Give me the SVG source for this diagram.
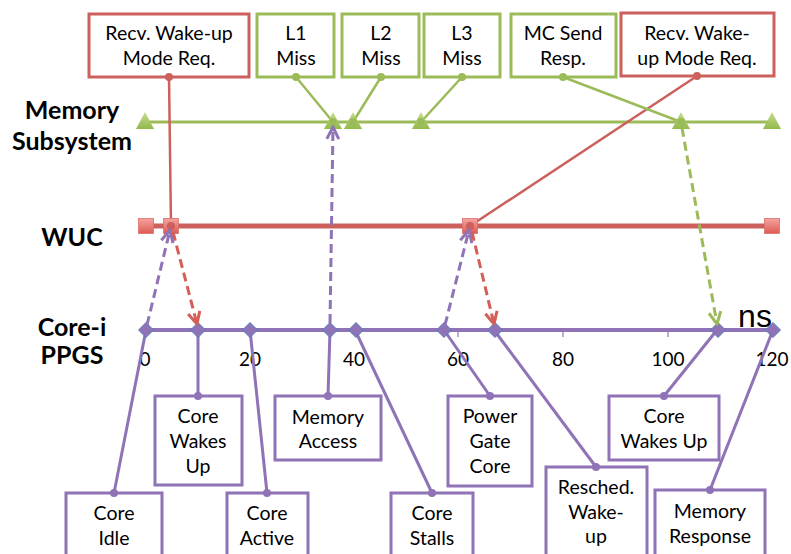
<svg xmlns="http://www.w3.org/2000/svg" width="791" height="554" viewBox="0 0 791 554">
<style>
.t{font-family:Lato,"Liberation Sans",sans-serif;font-size:19.5px;fill:#000;text-anchor:middle}
.lab{font-family:Lato,"Liberation Sans",sans-serif;font-size:25px;font-weight:bold;fill:#000;text-anchor:middle}
.ax{font-family:Lato,"Liberation Sans",sans-serif;font-size:19px;fill:#000;text-anchor:middle}
.rb{fill:#fff;stroke:#cc605c;stroke-width:3}
.gb{fill:#fff;stroke:#9bbb59;stroke-width:3}
.pb{fill:#fff;stroke:#8f73b6;stroke-width:3}
.rl{stroke:#cc605c;stroke-width:2.5;fill:none}
.gl{stroke:#9bbb59;stroke-width:2.5;fill:none}
.pl{stroke:#8f73b6;stroke-width:3;fill:none}
.rd{fill:#cc605c}
.gd{fill:#9bbb59}
.pd{fill:#8f73b6}
.dr{stroke:#d35f57;stroke-width:3;stroke-dasharray:9,5;fill:none;marker-end:url(#ar)}
.dp{stroke:#8f73b6;stroke-width:3;stroke-dasharray:9,5;fill:none;marker-end:url(#ap)}
.dg{stroke:#9bbb59;stroke-width:3;stroke-dasharray:9,5;fill:none;marker-end:url(#ag)}
</style>
<defs>
<marker id="ar" viewBox="0 0 10 10" refX="9" refY="5" markerWidth="5" markerHeight="5" orient="auto" markerUnits="strokeWidth"><path d="M1,1 L9,5 L1,9" fill="none" stroke="#d35f57" stroke-width="2"/></marker>
<marker id="ap" viewBox="0 0 10 10" refX="9" refY="5" markerWidth="5" markerHeight="5" orient="auto" markerUnits="strokeWidth"><path d="M1,1 L9,5 L1,9" fill="none" stroke="#8f73b6" stroke-width="2"/></marker>
<marker id="ag" viewBox="0 0 10 10" refX="9" refY="5" markerWidth="5" markerHeight="5" orient="auto" markerUnits="strokeWidth"><path d="M1,1 L9,5 L1,9" fill="none" stroke="#9bbb59" stroke-width="2"/></marker>
<linearGradient id="gg" x1="0" y1="0" x2="0" y2="1"><stop offset="0" stop-color="#c6dc92"/><stop offset="1" stop-color="#93b94c"/></linearGradient>
<linearGradient id="rg" x1="0" y1="0" x2="0" y2="1"><stop offset="0" stop-color="#f5a39f"/><stop offset="1" stop-color="#df5b55"/></linearGradient>
<path id="tri" d="M0,-10 L9,7 L-9,7 Z" fill="url(#gg)"/>
<rect id="sq" x="-7.5" y="-7.5" width="15" height="15" fill="url(#rg)" stroke="#d9706b" stroke-width="0.8"/>
<path id="dia" d="M0,-7.5 L7.5,0 L0,7.5 L-7.5,0 Z" fill="#8f73b6" stroke="#4f81bd" stroke-width="1"/>
</defs>
<rect width="791" height="554" fill="#fff"/>

<g id="lane-labels">
<text class="lab" x="72" y="119">Memory</text>
<text class="lab" x="72" y="150">Subsystem</text>
<text class="lab" x="72" y="246">WUC</text>
<text class="lab" x="72" y="336">Core-i</text>
<text class="lab" x="72" y="364">PPGS</text>
</g>

<g id="axis-labels">
<text class="ax" x="145" y="366">0</text>
<text class="ax" x="250" y="366">20</text>
<text class="ax" x="354" y="366">40</text>
<text class="ax" x="458" y="366">60</text>
<text class="ax" x="563" y="366">80</text>
<text class="ax" x="668" y="366">100</text>
<text class="ax" x="772" y="366">120</text>
<text x="755" y="327" style="font-family:'Liberation Sans',Arial,sans-serif;font-size:32px;text-anchor:middle">ns</text>
</g>

<g id="timelines">
<line x1="145" y1="122" x2="772" y2="122" stroke="#9bbb59" stroke-width="3"/>
<line x1="145" y1="226" x2="772" y2="226" stroke="#cc605c" stroke-width="5"/>
<line x1="146" y1="330" x2="773" y2="330" stroke="#8f73b6" stroke-width="4"/>
<g stroke="#8f73b6" stroke-width="1.2">
<line x1="458" y1="331" x2="458" y2="337"/>
<line x1="563" y1="331" x2="563" y2="337"/>
<line x1="668" y1="331" x2="668" y2="337"/>
</g>
</g>

<g id="connectors">
<line class="rl" x1="169" y1="77" x2="171" y2="226"/>
<line class="rl" x1="697" y1="76" x2="470" y2="226"/>
<line class="gl" x1="296" y1="77" x2="333" y2="122"/>
<line class="gl" x1="381" y1="77" x2="353" y2="122"/>
<line class="gl" x1="462" y1="77" x2="421" y2="122"/>
<line class="gl" x1="563" y1="77" x2="681" y2="122"/>
<line class="pl" x1="146" y1="330" x2="114" y2="493"/>
<line class="pl" x1="198" y1="330" x2="198" y2="396"/>
<line class="pl" x1="250" y1="330" x2="267" y2="493"/>
<line class="pl" x1="330" y1="330" x2="328" y2="396"/>
<line class="pl" x1="355" y1="330" x2="432" y2="493"/>
<line class="pl" x1="444" y1="330" x2="490" y2="396"/>
<line class="pl" x1="494" y1="330" x2="596" y2="467"/>
<line class="pl" x1="717" y1="330" x2="664" y2="396"/>
<line class="pl" x1="773" y1="330" x2="710" y2="490"/>
</g>

<g id="markers">
<use href="#tri" x="145" y="122"/>
<use href="#tri" x="333" y="122"/>
<use href="#tri" x="353" y="122"/>
<use href="#tri" x="421" y="122"/>
<use href="#tri" x="681" y="122"/>
<use href="#tri" x="772" y="122"/>
<use href="#sq" x="146" y="226"/>
<use href="#sq" x="171" y="226"/>
<use href="#sq" x="470" y="226"/>
<use href="#sq" x="772" y="226"/>
<use href="#dia" x="146" y="330"/>
<use href="#dia" x="198" y="330"/>
<use href="#dia" x="250" y="330"/>
<use href="#dia" x="330" y="330"/>
<use href="#dia" x="356" y="330"/>
<use href="#dia" x="444" y="330"/>
<use href="#dia" x="495" y="330"/>
<use href="#dia" x="718" y="330"/>
<use href="#dia" x="773" y="330"/>
<circle class="gd" cx="333" cy="122" r="4"/>
<circle class="gd" cx="353" cy="122" r="4"/>
<circle class="gd" cx="421" cy="122" r="4"/>
<circle class="gd" cx="681" cy="122" r="4"/>
<circle class="rd" cx="171" cy="226" r="4"/>
<circle class="rd" cx="470" cy="226" r="4"/>
</g>

<g id="dashed-arrows">
<line class="dp" x1="147" y1="325" x2="170" y2="230"/>
<line class="dr" x1="173" y1="232" x2="197" y2="324"/>
<line class="dp" x1="330" y1="323" x2="333" y2="127"/>
<line class="dp" x1="445" y1="325" x2="469" y2="230"/>
<line class="dr" x1="472" y1="232" x2="494" y2="324"/>
<line class="dg" x1="682" y1="128" x2="717" y2="324"/>
</g>

<g id="n-recv1">
<rect class="rb" x="89" y="14" width="160" height="63"/>
<text class="t" x="169" y="40">Recv. Wake-up</text>
<text class="t" x="169" y="65">Mode Req.</text>
<circle class="rd" cx="169" cy="77" r="4"/>
</g>
<g id="n-l1">
<rect class="gb" x="257" y="14" width="77" height="63"/>
<text class="t" x="296" y="40">L1</text>
<text class="t" x="296" y="65">Miss</text>
<circle class="gd" cx="296" cy="77" r="4"/>
</g>
<g id="n-l2">
<rect class="gb" x="342" y="14" width="77" height="63"/>
<text class="t" x="381" y="40">L2</text>
<text class="t" x="381" y="65">Miss</text>
<circle class="gd" cx="381" cy="77" r="4"/>
</g>
<g id="n-l3">
<rect class="gb" x="424" y="14" width="76" height="63"/>
<text class="t" x="462" y="40">L3</text>
<text class="t" x="462" y="65">Miss</text>
<circle class="gd" cx="462" cy="77" r="4"/>
</g>
<g id="n-mc">
<rect class="gb" x="511" y="14" width="105" height="63"/>
<text class="t" x="563" y="40">MC Send</text>
<text class="t" x="563" y="65">Resp.</text>
<circle class="gd" cx="563" cy="77" r="4"/>
</g>
<g id="n-recv2">
<rect class="rb" x="621" y="13" width="153" height="63"/>
<text class="t" x="697" y="40">Recv. Wake-</text>
<text class="t" x="697" y="65">up Mode Req.</text>
<circle class="rd" cx="697" cy="76" r="4"/>
</g>

<g id="n-idle">
<rect class="pb" x="66" y="493" width="96" height="70"/>
<text class="t" x="114" y="520">Core</text>
<text class="t" x="114" y="545">Idle</text>
<circle class="pd" cx="114" cy="493" r="4"/>
</g>
<g id="n-wakes1">
<rect class="pb" x="155" y="396" width="87" height="89"/>
<text class="t" x="198" y="423">Core</text>
<text class="t" x="198" y="448">Wakes</text>
<text class="t" x="198" y="473">Up</text>
<circle class="pd" cx="198" cy="396" r="4"/>
</g>
<g id="n-active">
<rect class="pb" x="227" y="493" width="81" height="70"/>
<text class="t" x="267" y="520">Core</text>
<text class="t" x="267" y="545">Active</text>
<circle class="pd" cx="267" cy="493" r="4"/>
</g>
<g id="n-memacc">
<rect class="pb" x="275" y="396" width="106" height="64"/>
<text class="t" x="328" y="424">Memory</text>
<text class="t" x="328" y="448">Access</text>
<circle class="pd" cx="328" cy="396" r="4"/>
</g>
<g id="n-stalls">
<rect class="pb" x="391" y="493" width="82" height="70"/>
<text class="t" x="432" y="520">Core</text>
<text class="t" x="432" y="545">Stalls</text>
<circle class="pd" cx="432" cy="493" r="4"/>
</g>
<g id="n-pgate">
<rect class="pb" x="448" y="396" width="84" height="90"/>
<text class="t" x="490" y="423">Power</text>
<text class="t" x="490" y="448">Gate</text>
<text class="t" x="490" y="473">Core</text>
<circle class="pd" cx="490" cy="396" r="4"/>
</g>
<g id="n-resched">
<rect class="pb" x="546" y="467" width="101" height="96"/>
<text class="t" x="596" y="494">Resched.</text>
<text class="t" x="596" y="519">Wake-</text>
<text class="t" x="596" y="543">up</text>
<circle class="pd" cx="596" cy="467" r="4"/>
</g>
<g id="n-wakes2">
<rect class="pb" x="609" y="396" width="110" height="64"/>
<text class="t" x="664" y="423">Core</text>
<text class="t" x="664" y="448">Wakes Up</text>
<circle class="pd" cx="664" cy="396" r="4"/>
</g>
<g id="n-memresp">
<rect class="pb" x="655" y="490" width="110" height="73"/>
<text class="t" x="710" y="518">Memory</text>
<text class="t" x="710" y="543">Response</text>
<circle class="pd" cx="710" cy="490" r="4"/>
</g>
</svg>
